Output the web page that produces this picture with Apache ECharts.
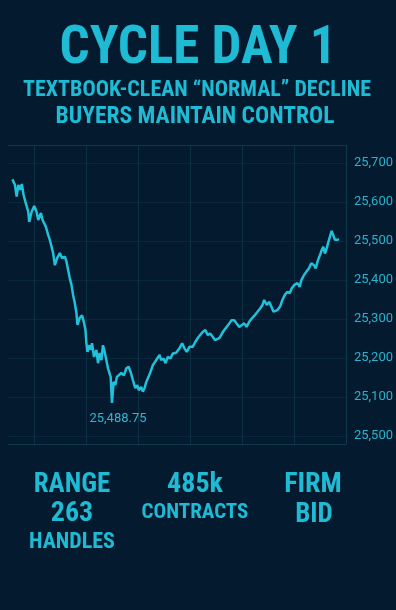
<!DOCTYPE html>
<html>
<head>
<meta charset="utf-8">
<script src="https://cdn.jsdelivr.net/npm/echarts@6/dist/echarts.min.js"></script>
<style>
html,body{margin:0;padding:0;background:#031a2f;}
#chart{width:396px;height:610px;}
</style>
</head>
<body>
<div id="chart"></div>
<script>
// Minutes after 09:30
var minutes = [5,8,10,12,14,16,18,20,21.5,23.4,24.5,27.3,30.3,33,34.9,38,39.9,41.8,43.7,46.4,48.3,50.3,52.1,54.1,56.7,59.8,62.5,65.6,67.5,69.4,71.3,73.3,75.1,77.1,79,80.2,82.8,85.5,87.8,89.4,90.5,91.7,93.5,95.5,97,99.3,102,103.9,105.8,107.8,109.6,111.6,113.5,115.4,117.3,118.5,120,121.9,123.9,125.7,128,130.8,133.8,136.6,139.2,141.5,144.1,146.9,149.2,151,153.8,155.6,157.6,159.6,162.2,164.5,167.2,169.9,172.2,174.9,176.8,179.5,181.8,184.4,187.5,190.2,194.1,197.9,201,203.6,206.3,209.4,213.2,216.3,218.9,221.7,224.7,227.8,230.4,233.2,236.2,238.9,241.2,243.9,247,249.6,252.3,255.4,258,261.2,263.8,266.9,270,272.6,275.3,278.4,281.5,284.1,288,291,293.7,295.7,298.7,301.4,304,306.4,308.3,311,314,316.7,319.5,322.5,325.2,327.5,330.2,334,336.7,338.6,341.7,344.3,347.4,350.1,353.2,355.1,357.8,360.1,362.1,363.9,365.8,367.8,369.3,371.6,373.5,375.4,377.3,380,382];
var prices = [25658,25644,25614,25644,25631,25646,25618,25601,25597,25575,25549,25575,25590,25575,25554,25572,25554,25559,25537,25515,25503,25485,25469,25438,25456,25469,25456,25460,25447,25426,25405,25387,25362,25341,25315,25285,25303,25310,25290,25272,25238,25216,25233,25221,25238,25203,25221,25187,25213,25195,25233,25216,25195,25174,25169,25152,25085,25139,25131,25152,25149,25162,25156,25174,25178,25165,25144,25123,25131,25118,25126,25114,25123,25139,25152,25165,25182,25191,25199,25208,25195,25199,25187,25203,25199,25212,25214,25225,25238,25225,25216,25229,25229,25242,25251,25259,25267,25272,25259,25263,25255,25246,25242,25251,25263,25272,25280,25289,25297,25297,25289,25280,25285,25289,25280,25293,25302,25308,25319,25327,25336,25349,25336,25344,25332,25319,25315,25323,25332,25349,25362,25370,25366,25379,25387,25392,25383,25400,25413,25421,25430,25443,25438,25430,25451,25464,25477,25485,25468,25481,25494,25511,25526,25515,25503,25503,25505];
var tickValues = [25000,25100,25200,25300,25400,25500,25600,25700];
var tickLabels = ["25,500","25,100","25,200","25,300","25,400","25,500","25,600","25,700"];
var hourLines = [30,90,150,210,270,330];
var lowLabel = "25,488.75";
var titleText = "CYCLE DAY 1";
var subtitle1 = "TEXTBOOK-CLEAN \u201CNORMAL\u201D DECLINE";
var subtitle2 = "BUYERS MAINTAIN CONTROL";
var stat1 = ["RANGE","263","HANDLES"];
var stat2 = ["485k","CONTRACTS"];
var stat3 = ["FIRM","BID"];

var CYAN = '#1fbad4';
var COND = "'Roboto Condensed','DejaVu Sans Condensed','Liberation Sans Narrow',Roboto,sans-serif";
var GRIDC = '#0d3044';

var seriesData = minutes.map(function(m,i){return [m, prices[i]];});

function txt(x,y,s,size){
  return {type:'text', x:x, y:y, style:{text:s, fill:CYAN, font:'bold '+size+'px '+COND, textAlign:'center', textVerticalAlign:'middle'}};
}

var chart = echarts.init(document.getElementById('chart'), null, {renderer:'canvas'});
chart.setOption({
  backgroundColor:'#031a2f',
  animation:false,
  grid:{left:8, right:49, top:145, bottom:166},
  xAxis:[{
    type:'value', min:0, max:390,
    axisLine:{show:true, onZero:false, lineStyle:{color:'#10384c', width:1}},
    axisTick:{show:false, customValues:hourLines},
    axisLabel:{show:false},
    splitLine:{show:true, lineStyle:{color:GRIDC, width:1}}
  },{
    type:'value', min:0, max:390, position:'top',
    axisLine:{show:true, onZero:false, lineStyle:{color:'#10384c', width:1}},
    axisTick:{show:false}, axisLabel:{show:false}, splitLine:{show:false}
  }],
  yAxis:{
    type:'value', position:'right', min:24980, max:25746,
    axisLine:{show:true, onZero:false, lineStyle:{color:'#10384c', width:1}},
    axisTick:{show:false, customValues:tickValues},
    axisLabel:{show:true, customValues:tickValues, color:'#28b4cc', fontSize:13, fontFamily:'Roboto', margin:8,
      formatter:function(v){var i=tickValues.indexOf(v); return i>=0?tickLabels[i]:'';}},
    splitLine:{show:true, lineStyle:{color:'#09283a', width:1}}
  },
  series:[{
    type:'line', xAxisIndex:0, data:seriesData, showSymbol:false,
    lineStyle:{color:'#1fc2da', width:2.5},
    markPoint:{
      symbol:'circle', symbolSize:1, itemStyle:{color:'rgba(0,0,0,0)'},
      data:[{type:'min'}],
      label:{show:true, position:'inside', offset:[6,16], formatter:function(){return lowLabel;}, color:'#33b6cc', fontSize:13, fontFamily:'Roboto'}
    }
  }],
  graphic:[
    txt(198,50,titleText,53),
    txt(197,90,subtitle1,22),
    txt(195,117,subtitle2,23.5),
    txt(72,485,stat1[0],27),
    txt(72,514,stat1[1],28),
    txt(72,542,stat1[2],22),
    txt(195,485,stat2[0],28),
    txt(195,513,stat2[1],21),
    txt(313,485,stat3[0],28),
    txt(314,515,stat3[1],27)
  ]
});
</script>
</body>
</html>
